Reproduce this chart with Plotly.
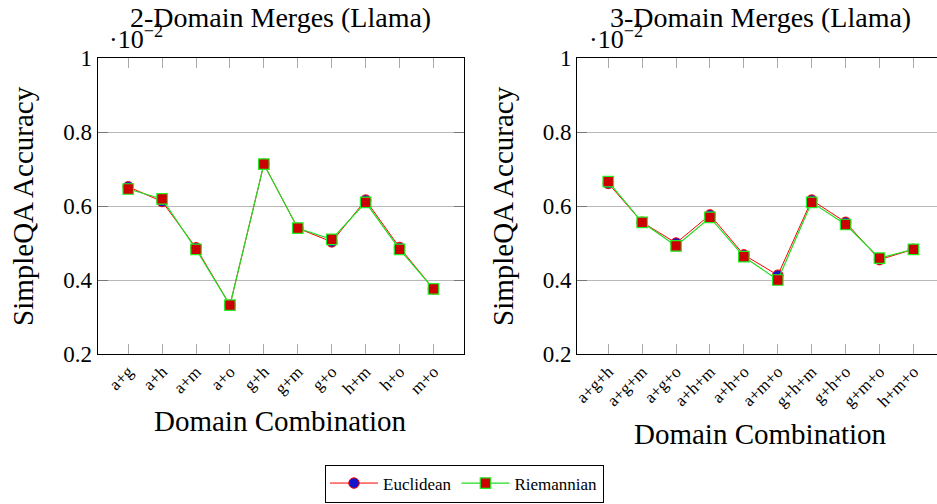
import plotly.graph_objects as go

# Domain combinations
pairs = ["a+g", "a+h", "a+m", "a+o", "g+h", "g+m", "g+o", "h+m", "h+o", "m+o"]
triples = ["a+g+h", "a+g+m", "a+g+o", "a+h+m", "a+h+o",
           "a+m+o", "g+h+m", "g+h+o", "g+m+o", "h+m+o"]

# SimpleQA accuracy (units of 1e-2)
euclid_2 = [0.652, 0.612, 0.487, 0.332, 0.713, 0.540, 0.503, 0.616, 0.488, 0.376]
riemann_2 = [0.646, 0.619, 0.483, 0.332, 0.713, 0.540, 0.510, 0.610, 0.483, 0.376]
euclid_3 = [0.661, 0.556, 0.500, 0.576, 0.468, 0.413, 0.616, 0.556, 0.455, 0.483]
riemann_3 = [0.666, 0.556, 0.492, 0.569, 0.463, 0.400, 0.610, 0.550, 0.459, 0.483]

y_ticks = [0.2, 0.4, 0.6, 0.8, 1.0]
y_tick_text = ["0.2", "0.4", "0.6", "0.8", "1"]

FONT = "Liberation Serif"
W, H = 937, 504

euclid_style = dict(
    mode="lines+markers",
    line=dict(color="#ff0000", width=1),
    marker=dict(symbol="circle", size=10.5, color="#1414c8",
                line=dict(color="#ff0000", width=1)),
    name="Euclidean",
)
riemann_style = dict(
    mode="lines+markers",
    line=dict(color="#22dd22", width=1.2),
    marker=dict(symbol="square", size=10.5, color="#cc0000",
                line=dict(color="#22ee22", width=1.2)),
    name="Riemannian",
)

fig = go.Figure()
fig.add_trace(go.Scatter(x=pairs, y=euclid_2, xaxis="x", yaxis="y",
                         legendgroup="e", showlegend=True, **euclid_style))
fig.add_trace(go.Scatter(x=pairs, y=riemann_2, xaxis="x", yaxis="y",
                         legendgroup="r", showlegend=True, **riemann_style))
fig.add_trace(go.Scatter(x=triples, y=euclid_3, xaxis="x2", yaxis="y2",
                         legendgroup="e", showlegend=False, **euclid_style))
fig.add_trace(go.Scatter(x=triples, y=riemann_3, xaxis="x2", yaxis="y2",
                         legendgroup="r", showlegend=False, **riemann_style))


def px_x(v):
    return v / W


def px_y(v):
    return (H - v) / H


y_dom = [px_y(354), px_y(58)]

x_common = dict(
    type="category", showgrid=False, zeroline=False, automargin=False,
    showline=True, linecolor="black", linewidth=1.3, mirror="ticks",
    ticks="inside", ticklen=10, tickwidth=1, tickcolor="#aaaaaa",
    tickangle=-45, tickfont=dict(family=FONT, size=17, color="black"),
)
y_common = dict(
    range=[0.2, 1.0], tickvals=y_ticks, ticktext=y_tick_text, automargin=False,
    showgrid=True, gridcolor="#b8b8b8", gridwidth=1, zeroline=False,
    showline=True, linecolor="black", linewidth=1.3,
    ticks="inside", ticklen=10, tickwidth=1, tickcolor="#777777",
    tickfont=dict(family=FONT, size=23, color="black"),
    domain=y_dom,
)

fig.update_layout(
    width=W, height=H,
    margin=dict(l=0, r=0, t=0, b=0, autoexpand=False),
    paper_bgcolor="white", plot_bgcolor="white",
    font=dict(family=FONT, color="black"),
    xaxis=dict(domain=[px_x(97.7), px_x(464)], range=[-0.9, 9.9],
               anchor="y", **x_common),
    xaxis2=dict(domain=[px_x(577.3), 1.0], range=[-0.914, 9.696],
                anchor="y2", **x_common),
    yaxis=dict(anchor="x", mirror="ticks", **y_common),
    yaxis2=dict(anchor="x2", mirror=False, **y_common),
    legend=dict(orientation="h", x=px_x(464.5), xanchor="center",
                y=px_y(483.5), yanchor="middle",
                bordercolor="black", borderwidth=1, bgcolor="white",
                font=dict(family=FONT, size=17, color="black"),
                itemwidth=48, tracegroupgap=0),
)

annotations = []
for cx, title in [(280.9, "2-Domain Merges (Llama)"), (760.6, "3-Domain Merges (Llama)")]:
    annotations.append(dict(text=title, x=px_x(cx), y=px_y(18), xref="paper", yref="paper",
                            xanchor="center", yanchor="middle", showarrow=False,
                            font=dict(family=FONT, size=28, color="black")))
for lx in [107, 587]:
    annotations.append(dict(text="·10<sup>−2</sup>", x=px_x(lx), y=px_y(38), xref="paper",
                            yref="paper", xanchor="left", yanchor="middle", showarrow=False,
                            font=dict(family=FONT, size=26, color="black")))
for tx in [23, 503]:
    annotations.append(dict(text="SimpleQA Accuracy", x=px_x(tx), y=px_y(206), xref="paper",
                            yref="paper", xanchor="center", yanchor="middle", textangle=-90,
                            showarrow=False, font=dict(family=FONT, size=29, color="black")))
for cx, cy in [(280.9, 421), (760.6, 434)]:
    annotations.append(dict(text="Domain Combination", x=px_x(cx), y=px_y(cy), xref="paper",
                            yref="paper", xanchor="center", yanchor="middle", showarrow=False,
                            font=dict(family=FONT, size=29, color="black")))
fig.update_layout(annotations=annotations)

fig.write_html("out.html")
